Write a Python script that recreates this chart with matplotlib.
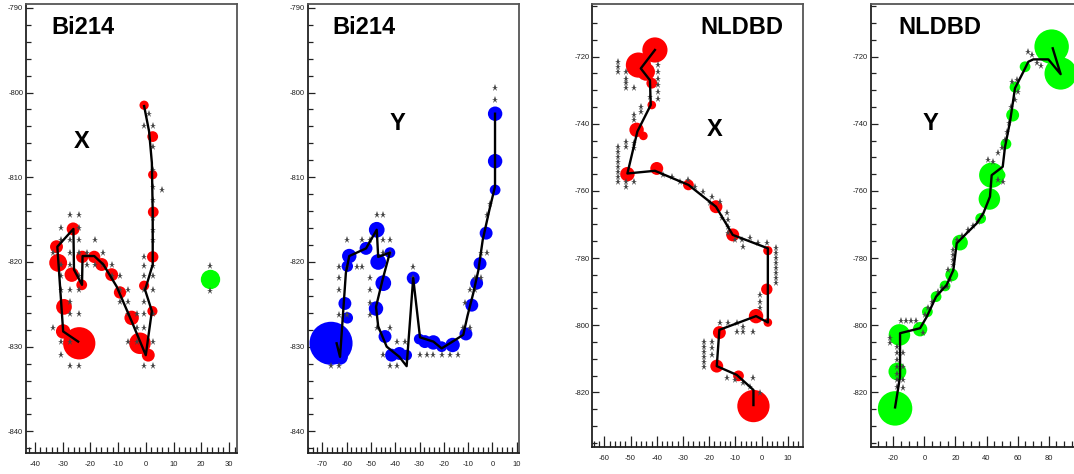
import matplotlib.pyplot as plt
from matplotlib.ticker import MultipleLocator

plt.rcParams['font.family'] = ['Liberation Sans', 'DejaVu Sans']
plt.rcParams['axes.unicode_minus'] = False

# ---- Bi214, X view ----
bx_clu_x = [-0.6, 2.5, 2.5, 2.7, 2.5, -0.6, 2.4, -2.1, 0.9, -5.1, -9.3, -12.3, -15.9,
            -18.6, -22.9, -23.1, -26.7, -26.2, -32.2, -31.6, -29.5, -29.8, -24.0]
bx_clu_y = [-801.5, -805.2, -809.7, -814.1, -819.4, -822.8, -825.8, -829.6, -831.0, -826.6,
            -823.6, -821.5, -820.3, -819.4, -819.4, -822.7, -821.5, -816.1, -818.2, -820.1,
            -825.3, -828.2, -829.6]
bx_clu_q = [4.3, 5, 4.3, 5, 5.3, 4.7, 4.7, 10, 6, 6.7, 5.7, 6, 6, 5.7, 5.7, 5, 6.7, 6, 6,
            8.3, 7.3, 6.7, 15]
bx_trk_x = [-0.6, 1.2, 2.2, 2.5, 2.5, -0.25, 2.2, 0.0, -5.1, -10.5, -15.3, -18.6, -22.8,
            -23.0, -25.9, -26.1, -31.9, -29.8, -24.4]
bx_trk_y = [-801.6, -804.6, -808.3, -814.2, -820.3, -823.3, -825.8, -831.0, -827.0, -822.9,
            -820.3, -819.3, -819.3, -822.7, -820.9, -816.1, -818.2, -828.2, -829.4]
bx_hit_x = [-27.3, -24.1, -30.4, -24.1, -30.4, -27.3, -24.1, -18.3,
            -33.4, -27.3, -24.1, -21.3, -15.3, -30.4, -27.3, -21.3, -18.3, -15.3, -12.3,
            -30.4, -24.1, -12.3, -9.3, -30.4, -27.3, -24.1, -9.3, -6.3, -0.6, 2.5,
            -27.3, -9.3, -6.3, -0.6, -27.3, -24.1, -6.3, -3.3, -0.6, 2.5,
            -33.4, -3.3, -0.6, -30.4, -27.3, -6.3, -3.3, 2.5, -30.4,
            -27.3, -24.1, -0.6, 2.5,
            1.0, -0.6, 2.5, 2.5, 2.5, 2.5, 5.8, 2.5, 2.5, 2.5, 2.5, -0.6, -0.6, 2.5, -0.6, 2.5,
            23.2, 23.2]
bx_hit_y = [-814.4, -814.4, -816.0, -816.0, -817.4, -817.4, -817.4, -817.4,
            -819.0, -819.0, -819.0, -819.0, -819.0, -820.3, -820.3, -820.3, -820.3, -820.3, -820.3,
            -821.7, -821.7, -821.7, -821.7, -823.3, -823.3, -823.3, -823.3, -823.3, -823.3, -823.3,
            -824.7, -824.7, -824.7, -824.7, -826.2, -826.2, -826.2, -826.2, -826.2, -826.2,
            -827.8, -827.8, -827.8, -829.4, -829.4, -829.4, -829.4, -829.4, -831.0,
            -832.3, -832.3, -832.3, -832.3,
            -802.5, -804.0, -804.0, -806.4, -809.1, -811.1, -811.5, -812.7, -814.8, -816.2,
            -817.4, -819.4, -820.5, -820.5, -821.7, -821.7,
            -820.5, -823.4]
bx_gam_x = [23.2]
bx_gam_y = [-822.0]
bx_gam_q = [9]

# ---- Bi214, Y view ----
by_clu_x = [1.1, 1.1, 1.1, -2.6, -5.1, -6.5, -8.5, -10.9, -16.4, -20.9, -24.3, -27.8, -30.1,
            -32.6, -35.3, -38.3, -41.5, -44.2, -47.9, -44.9, -47.0, -42.2, -47.6, -52.0,
            -58.9, -59.7, -60.7, -59.7, -66.4, -62.7]
by_clu_y = [-802.5, -808.1, -811.5, -816.6, -820.2, -822.5, -825.1, -828.5, -829.8, -830.0,
            -829.5, -829.4, -829.1, -821.9, -831.0, -830.8, -831.0, -828.8, -825.5, -822.5,
            -820.0, -818.9, -816.2, -818.4, -819.3, -820.5, -824.9, -826.6, -829.6, -831.2]
by_clu_q = [6.7, 6.7, 5, 6, 6, 6, 6, 6, 6.7, 5, 6.7, 6, 5, 6, 5, 6, 6, 6, 6.7, 7.3, 7.3,
            5, 7.3, 6, 6.7, 5.3, 6, 5.3, 20, 7.3]
by_trk_x = [1.06, 1.06, -1.3, -4.0, -5.8, -7.9, -10.3, -12.0, -16.4, -20.9, -24.3, -29.8,
            -32.6, -35.3, -38.3, -43.5, -47.0, -47.9, -45.2, -42.2, -47.0, -47.6, -52.0,
            -58.9, -60.3, -62.7, -64.1]
by_trk_y = [-802.5, -811.1, -813.9, -817.4, -821.0, -823.7, -826.4, -828.6, -829.4, -830.2,
            -829.4, -828.9, -821.9, -832.3, -831.2, -830.0, -827.6, -825.3, -822.1, -818.9,
            -819.4, -816.2, -818.4, -819.3, -821.3, -831.2, -829.6]
by_hit_x = [1.1, 1.1, -1.0, -2.4, -4.8, -2.4, -7.2, -4.8, -9.2, -7.2, -11.3, -12.0, -9.2,
            -29.8, -27.1, -24.3, -20.9, -17.5, -14.0, -39.4, -36.0, -66.4, -63.0, -42.2, -39.4,
            -47.6, -42.2, -63.0, -59.7, -50.4, -50.4, -63.0, -50.4, -63.0, -50.4, -32.5,
            -63.0, -59.7, -55.9, -53.8, -44.9, -42.2, -59.7, -53.8, -50.4, -44.9, -42.2,
            -47.6, -44.9, -32.5, -44.9]
by_hit_y = [-799.5, -800.9, -813.1, -814.5, -818.9, -818.9, -821.9, -821.9, -823.3, -823.3,
            -824.9, -827.8, -827.8,
            -831.0, -831.0, -831.0, -831.0, -831.0, -831.0, -829.4, -829.4, -832.3, -832.3,
            -832.3, -832.3, -827.8, -827.8, -826.3, -826.3, -826.3, -824.9, -823.3, -823.3,
            -821.9, -821.9, -821.9, -820.6, -820.6, -820.6, -820.6, -818.9, -818.9,
            -817.4, -817.4, -817.4, -817.4, -817.4, -814.5, -814.5, -820.6, -831.0]

# ---- NLDBD, X view ----
nx_clu_x = [-40.7, -47.0, -44.1, -41.9, -41.9, -47.7, -45.1, -51.2, -40.0, -27.9, -17.4,
            -11.0, 2.4, 2.0, -2.1, 2.4, -16.1, -17.1, -8.8, -3.1]
nx_clu_y = [-718.0, -722.5, -724.5, -727.9, -734.4, -741.8, -743.6, -755.0, -753.3, -758.2,
            -764.7, -773.1, -777.8, -789.3, -797.3, -799.2, -802.2, -812.2, -815.1, -824.1]
nx_clu_q = [11.7, 11.7, 8.3, 5, 4, 6.7, 4, 6.7, 6, 5, 6, 6, 4.3, 5.3, 6.7, 4, 6, 6, 5, 15]
nx_trk_x = [-40.7, -46.1, -42.6, -42.3, -47.4, -51.2, -40.7, -27.9, -17.4, -11.0, 2.4, 2.4,
            -2.1, -16.1, -17.1, -9.5, -3.1, -3.1]
nx_trk_y = [-718.0, -723.5, -727.0, -734.4, -742.3, -754.8, -754.0, -758.2, -764.7, -773.1,
            -777.1, -799.2, -797.3, -801.4, -812.2, -814.8, -819.3, -823.8]
nx_hit_x = [-54.7, -54.7, -54.7, -51.7, -51.7, -51.7, -51.7, -48.7,
            -39.4, -39.4, -39.4, -39.4, -39.4, -39.4, -42.6, -46.0, -46.0, -48.7, -48.7,
            -51.7, -51.7, -48.7, -48.7,
            -54.7, -54.7, -54.7, -54.7, -54.7, -54.7, -54.7, -54.7, -51.7, -51.7, -48.7,
            -37.5, -34.3, -31.1, -27.9, -25.4, -22.2, -19.0, -19.7, -15.8, -13.3, -12.7, -12.7,
            -15.2, -10.1, -7.6, -4.4, -1.2, 2.0, -12.7, -7.0,
            5.5, 5.5, 5.5, 5.5, 5.5, 5.5, 5.5, 5.5, -0.6, -0.6, -0.6,
            -15.8, -12.7, -9.5, -6.9, -9.5, -6.9, -3.1,
            -21.8, -21.8, -21.8, -21.8, -21.8, -21.8, -19.0, -19.0, -19.0,
            -13.3, -10.1, -6.9, -4.4, -3.1, -0.6]
nx_hit_y = [-721.5, -723.0, -724.5, -724.5, -726.5, -727.9, -729.4, -729.4,
            -722.5, -724.5, -726.5, -728.5, -730.5, -732.5, -731.9, -734.9, -736.4, -737.4, -738.9,
            -745.3, -746.8, -745.8, -747.3,
            -746.8, -748.3, -749.8, -751.3, -752.8, -754.3, -755.8, -757.2, -757.2, -758.7, -757.2,
            -755.3, -755.8, -757.2, -756.7, -758.7, -760.2, -761.7, -763.7, -763.2, -766.7, -768.7,
            -770.6, -768.2, -774.6, -774.6, -774.1, -775.4, -775.4, -772.6, -776.6,
            -777.1, -778.6, -780.1, -781.6, -783.1, -784.5, -786.0, -787.5, -791.0, -793.0, -795.0,
            -799.4, -799.4, -799.4, -800.4, -801.9, -801.9, -801.9,
            -804.9, -806.4, -807.9, -809.4, -810.9, -812.4, -804.9, -806.9, -808.9,
            -815.8, -816.3, -817.3, -818.3, -815.8, -820.3]

# ---- NLDBD, Y view ----
ny_clu_x = [-18.9, -17.4, -16.1, -2.8, 1.9, 7.5, 13.3, 17.6, 22.9, 36.2, 41.8, 43.3, 48.7,
            52.5, 56.8, 58.3, 64.8, 81.9, 87.7]
ny_clu_y = [-824.8, -813.8, -802.9, -801.2, -796.0, -791.5, -788.3, -785.0, -775.4, -768.2,
            -762.4, -755.3, -755.3, -746.0, -737.4, -729.1, -723.0, -717.0, -725.0]
ny_clu_q = [16, 8.3, 10, 6.7, 5, 5, 5, 6, 7.3, 5, 10, 11.7, 5, 5, 6, 5, 5, 16, 15]
ny_trk_x = [-18.9, -15.7, -15.7, -2.8, 1.5, 7.5, 14.3, 18.6, 20.8, 27.2, 33.6, 37.9, 42.2,
            43.3, 50.4, 51.9, 55.1, 58.3, 63.7, 66.9, 70.1, 79.8, 87.7, 82.6]
ny_trk_y = [-824.5, -815.3, -802.4, -800.9, -797.5, -791.5, -788.0, -783.6, -775.6, -772.6,
            -769.7, -766.7, -761.7, -755.3, -752.8, -746.8, -739.4, -729.4, -724.5, -721.5,
            -720.8, -720.8, -725.2, -717.5]
ny_hit_x = [-22.1, -22.1, -17.9, -17.9, -17.9, -17.9, -17.9, -17.9, -17.9,
            -14.0, -14.0, -14.0, -14.0, -15.3, -11.8, -8.8, -5.4, -0.7,
            2.5, 0.4, 4.7, 9.0, 11.1, 14.3, 16.5, 15.4, 18.2, 18.2, 18.2, 18.2,
            20.8, 24.0, 28.3, 31.5, 34.7, 36.9, 41.2, 44.4, 47.6, 50.8,
            47.6, 49.7, 51.9, 53.4, 54.7, 55.5, 58.3, 60.5, 56.6, 59.8,
            66.9, 69.1, 72.3, 74.8]
ny_hit_y = [-803.9, -805.4, -806.4, -808.4, -810.4, -812.4, -814.4, -816.4, -818.3,
            -808.4, -812.4, -816.4, -818.8, -798.9, -798.9, -798.9, -798.9, -802.4,
            -795.0, -797.0, -793.0, -790.0, -789.0, -788.5, -786.5, -783.6, -777.6, -779.1,
            -780.6, -782.1,
            -774.6, -773.4, -771.6, -770.4, -769.2, -767.5, -750.8, -751.3, -756.7, -757.2,
            -748.8, -747.3, -744.8, -742.3, -739.9, -734.9, -732.9, -730.4, -727.4, -726.9,
            -718.5, -719.5, -722.0, -722.8]

W, H = 1074, 474
fig = plt.figure(figsize=(W / 100, H / 100), dpi=100)


def box(left, right, top, bottom):
    return [left / W, 1 - bottom / H, (right - left) / W, (bottom - top) / H]


def draw(ax, hx, hy, cx, cy, cq, tx, ty, color, xlim, ylim, xt, yt):
    ax.scatter(cx, cy, s=[(1.55 * q) ** 2 for q in cq], c=color, linewidths=0, zorder=2)
    ax.plot(hx, hy, ls='none', marker='*', ms=5.2, color='#454545', mew=0, zorder=3)
    ax.plot(tx, ty, color='black', lw=1.7, zorder=4)
    ax.set_xlim(*xlim)
    ax.set_ylim(*ylim)
    ax.xaxis.set_major_locator(MultipleLocator(xt[0]))
    ax.xaxis.set_minor_locator(MultipleLocator(xt[1]))
    ax.yaxis.set_major_locator(MultipleLocator(yt[0]))
    ax.yaxis.set_minor_locator(MultipleLocator(yt[1]))
    ax.tick_params(which='both', direction='in', width=0.9, labelsize=5.5, colors='#222222')
    ax.tick_params(axis='x', which='major', length=8, pad=6)
    ax.tick_params(axis='x', which='minor', length=4.5)
    ax.tick_params(axis='y', which='major', length=5, pad=2)
    ax.tick_params(axis='y', which='minor', length=3.5)
    for s in ax.spines.values():
        s.set_color('#555555')
        s.set_linewidth(1.3)
    ax.spines['left'].set_color('#222222')
    ax.spines['bottom'].set_color('#222222')


ax1 = fig.add_axes(box(26, 237, 4, 453))
draw(ax1, bx_hit_x, bx_hit_y, bx_clu_x, bx_clu_y, bx_clu_q, bx_trk_x, bx_trk_y,
     '#ff0000', (-43.2, 32.9), (-842.55, -789.55), (10, 2), (10, 2))
ax1.scatter(bx_gam_x, bx_gam_y, s=[(1.55 * q) ** 2 for q in bx_gam_q], c='#00ff00',
            linewidths=0, zorder=2)

ax2 = fig.add_axes(box(307.7, 518.7, 4, 453))
draw(ax2, by_hit_x, by_hit_y, by_clu_x, by_clu_y, by_clu_q, by_trk_x, by_trk_y,
     '#0000ff', (-76.0, 10.8), (-842.55, -789.55), (10, 2), (10, 2))

ax3 = fig.add_axes(box(592.3, 802.7, 4, 447))
draw(ax3, nx_hit_x, nx_hit_y, nx_clu_x, nx_clu_y, nx_clu_q, nx_trk_x, nx_trk_y,
     '#ff0000', (-64.6, 15.7), (-836.3, -704.3), (10, 2), (20, 5))

# last panel runs off the right edge of the picture
ax4 = fig.add_axes(box(870.7, 1074, 4, 447))
draw(ax4, ny_hit_x, ny_hit_y, ny_clu_x, ny_clu_y, ny_clu_q, ny_trk_x, ny_trk_y,
     '#00ff00', (-34.6, 96.3), (-836.3, -704.3), (20, 5), (20, 5))
ax4.spines['right'].set_visible(False)

labels = [('Bi214', 82.5, 27), ('X', 82, 141), ('Bi214', 364, 27), ('Y', 397.7, 123),
          ('NLDBD', 742, 28), ('X', 715, 130), ('NLDBD', 940, 28), ('Y', 930.5, 123)]
for txt, px, py in labels:
    fig.text(px / W, 1 - py / H, txt, fontsize=17, fontweight='bold',
             ha='center', va='center')

fig.savefig('out.png', dpi=100)
